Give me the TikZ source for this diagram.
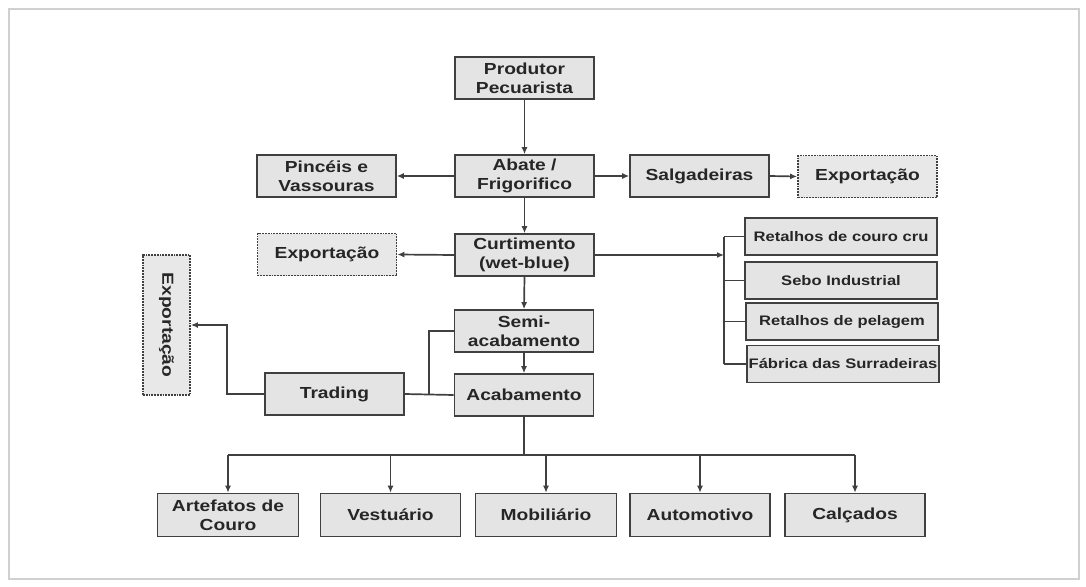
\documentclass[tikz,border=0pt]{standalone}
\usepackage{fontspec}
\setmainfont[FakeStretch=1.2]{Liberation Sans}
\usetikzlibrary{arrows.meta}
\definecolor{boxfill}{HTML}{E4E4E4}
\definecolor{boxline}{HTML}{404040}
\definecolor{txt}{HTML}{262626}
\definecolor{frameline}{HTML}{D0D0D0}
\begin{document}
\begin{tikzpicture}[x=1pt,y=-1pt,
  box/.style={draw=boxline, fill=boxfill, line width=1.6pt, inner sep=0pt,
    align=center, text=txt, font=\fontsize{16}{19}\selectfont\bfseries,
    minimum width=139pt, minimum height=42pt},
  dbox/.style={box, draw=boxline, fill=boxfill!85, line width=1.8pt, densely dotted},
  sbox/.style={box, font=\fontsize{13.8}{16}\selectfont\bfseries, minimum width=192pt, minimum height=37pt},
  conn/.style={draw=boxline, line width=1.7pt},
  arr/.style={conn, -{Latex[length=7pt,width=6pt]}}
]
\fill[white] (0,0) rectangle (1086,586);
\useasboundingbox (0,0) rectangle (1086,586);
\draw[frameline, line width=1.5pt] (9,9) rectangle (1079,579);

% top row nodes
\node[box] (prod) at (524.5,78) {Produtor\\Pecuarista};
\node[box] (abate) at (524.5,176) {Abate /\\Frigorifico};
\node[box] (pinc) at (326.5,176) {Pincéis e\\Vassouras};
\node[box] (salg) at (699.5,176) {Salgadeiras};
\node[dbox] (exp1) at (867.5,176.5) {Exportação};
\node[box] (curt) at (524.5,255) {Curtimento\\(wet-blue)};
\node[dbox] (exp2) at (327,254.5) {Exportação};

% right column
\node[sbox] (r1) at (841,236.5) {Retalhos de couro cru};
\node[sbox] (r2) at (841,280.5) {Sebo Industrial};
\node[sbox] (r3) at (842,321.5) {Retalhos de pelagem};
\node[sbox] (r4) at (843,364) {Fábrica das Surradeiras};
\coordinate (rb) at (724,255);

% middle
\node[box] (semi) at (524,331) {Semi-\\acabamento};
\node[box] (acab) at (524,395) {Acabamento};
\node[box] (trad) at (334.5,394) {Trading};
\node[dbox, minimum width=47pt, minimum height=140pt] (exp3) at (166.5,325) {\rotatebox{-90}{Exportação}};
\coordinate (tj) at (429,394);
\coordinate (tl) at (227,394);

% bottom row
\node[box, minimum width=141pt, minimum height=43pt] (art) at (228,515) {Artefatos de\\Couro};
\node[box, minimum width=140pt, minimum height=43pt] (vest) at (390.5,515) {Vestuário};
\node[box, minimum width=141pt, minimum height=43pt] (mob) at (546,515) {Mobiliário};
\node[box, minimum width=140pt, minimum height=43pt] (auto) at (700,515) {Automotivo};
\node[box, minimum width=140pt, minimum height=43pt] (calc) at (855,515) {Calçados};
\coordinate (bus) at (524,455);

% connectors
\draw[arr] (prod.south) -- (abate.north);
\draw[arr] (abate.west) -- (pinc.east);
\draw[arr] (abate.east) -- (salg.west);
\draw[arr] (salg.east) -- (exp1.west);
\draw[arr] (abate.south) -- (curt.north);
\draw[arr] (curt.west) -- (exp2.east);
\draw[arr] (curt.east) -- (rb);
\draw[conn] (r1.west -| rb) -- (r4.west -| rb);
\draw[conn] (r1.west -| rb) -- (r1.west);
\draw[conn] (r2.west -| rb) -- (r2.west);
\draw[conn] (r3.west -| rb) -- (r3.west);
\draw[conn] (r4.west -| rb) -- (r4.west);
\draw[arr] (curt.south) -- (semi.north);
\draw[arr] (semi.south) -- (acab.north);
\draw[conn] (trad.east) -- (acab.west);
\draw[conn] (tj) |- (semi.west);
\draw[arr] (trad.west) -- (tl) |- (exp3.east);
\draw[conn] (acab.south) -- (bus);
\draw[conn] (art.north |- bus) -- (calc.north |- bus);
\draw[arr] (art.north |- bus) -- (art.north);
\draw[arr] (vest.north |- bus) -- (vest.north);
\draw[arr] (mob.north |- bus) -- (mob.north);
\draw[arr] (auto.north |- bus) -- (auto.north);
\draw[arr] (calc.north |- bus) -- (calc.north);
\end{tikzpicture}
\end{document}
